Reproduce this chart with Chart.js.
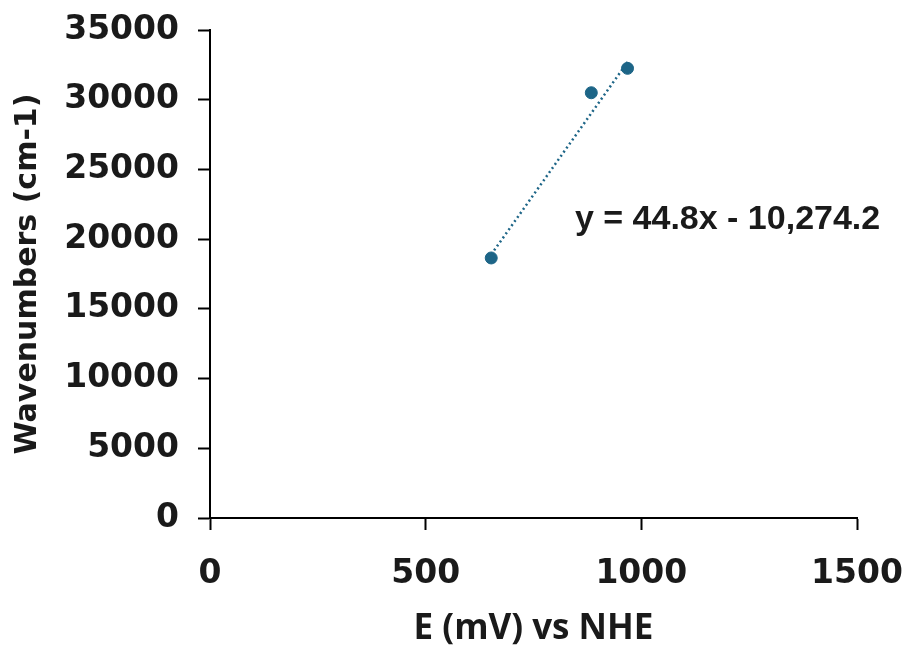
<!DOCTYPE html>
<html>
<head>
<meta charset="utf-8">
<script src="https://cdn.jsdelivr.net/npm/chart.js@4.4.1/dist/chart.umd.min.js"></script>
<style>
  html, body { margin: 0; padding: 0; background: #ffffff; }
  #wrap { width: 917px; height: 655px; position: relative; }
</style>
</head>
<body>
<div id="wrap"><canvas id="potentialChart"></canvas></div>
<script>
(function () {
  'use strict';

  // E (mV) vs NHE and wavenumbers (cm-1)
  var potentials = [652, 884, 968];
  var wavenumbers = [18650, 30500, 32250];

  // dotted trendline ends
  var trendX = [652, 968];
  var trendY = [18900, 32700];

  var xTicks = [0, 500, 1000, 1500];
  var yTicks = [0, 5000, 10000, 15000, 20000, 25000, 30000, 35000];

  var equationText = 'y = 44.8x - 10,274.2';
  var equationAt = { x: 846, y: 21400 };

  var markColor = '#1d6587';
  var inkColor = '#1a1a1a';
  var tickFont = { family: 'DejaVu Sans', size: 33, weight: 'bold' };

  function toPoints(xs, ys) {
    return xs.map(function (x, i) { return { x: x, y: ys[i] }; });
  }

  var equationLabel = {
    id: 'equationLabel',
    afterDatasetsDraw: function (chart) {
      var ctx = chart.ctx;
      var px = chart.scales.x.getPixelForValue(equationAt.x);
      var py = chart.scales.y.getPixelForValue(equationAt.y);
      ctx.save();
      ctx.font = 'bold 34px "Liberation Sans"';
      ctx.fillStyle = inkColor;
      ctx.textAlign = 'left';
      ctx.textBaseline = 'middle';
      ctx.fillText(equationText, px, py);
      ctx.restore();
    }
  };

  function axisOptions(min, max, ticks, title) {
    return {
      type: 'linear',
      min: min,
      max: max,
      afterBuildTicks: function (axis) {
        axis.ticks = ticks.map(function (v) { return { value: v }; });
      },
      grid: {
        drawOnChartArea: false,
        drawTicks: true,
        tickLength: 12,
        tickWidth: 2,
        tickColor: '#000000'
      },
      border: { display: true, color: '#000000', width: 2 },
      ticks: {
        color: inkColor,
        font: tickFont,
        maxRotation: 0,
        callback: function (value) { return String(value); }
      },
      title: {
        display: true,
        text: title,
        color: inkColor
      }
    };
  }

  var xAxis = axisOptions(0, 1500, xTicks, 'E (mV) vs NHE');
  xAxis.ticks.padding = 25;
  xAxis.title.font = { family: 'Open Sans', size: 35, weight: 'bold' };
  xAxis.title.padding = { top: 0, bottom: 2 };
  xAxis.afterFit = function (scale) {
    scale.paddingLeft = 0;
    scale.paddingRight = 0;
    scale.height = 134;
  };

  var yAxis = axisOptions(0, 35000, yTicks, 'Wavenumbers (cm-1)');
  yAxis.ticks.padding = 19;
  yAxis.title.font = { family: 'DejaVu Sans', size: 30, weight: 'bold' };
  yAxis.title.padding = { top: 10, bottom: 0 };
  yAxis.afterFit = function (scale) {
    scale.paddingTop = 0;
    scale.paddingBottom = 0;
    scale.width = 210;
  };

  new Chart(document.getElementById('potentialChart'), {
    type: 'scatter',
    data: {
      datasets: [{
        label: 'Wavenumbers',
        data: toPoints(potentials, wavenumbers),
        backgroundColor: markColor,
        borderColor: markColor,
        pointRadius: 6,
        pointHoverRadius: 6
      }, {
        label: 'Linear trend',
        type: 'line',
        data: toPoints(trendX, trendY),
        borderColor: markColor,
        borderWidth: 2.5,
        borderDash: [2, 3],
        pointRadius: 0,
        fill: false
      }]
    },
    options: {
      responsive: true,
      maintainAspectRatio: false,
      animation: false,
      layout: { padding: { top: 30, right: 60, bottom: 3, left: 0 } },
      scales: { x: xAxis, y: yAxis },
      plugins: {
        legend: { display: false },
        tooltip: { enabled: false }
      }
    },
    plugins: [equationLabel]
  });
}());
</script>
</body>
</html>
